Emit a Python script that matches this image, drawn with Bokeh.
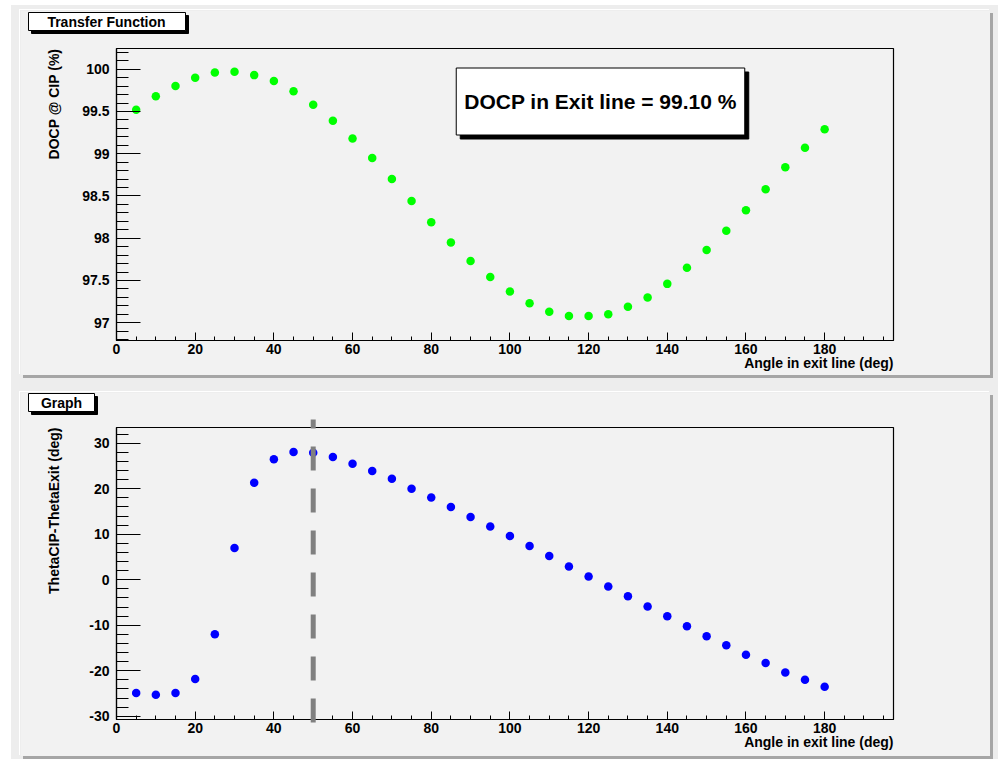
import numpy as np
from bokeh.plotting import figure
from bokeh.models import Range1d, FixedTicker, Label, CustomJSTickFormatter
from bokeh.core.properties import value
from bokeh.layouts import column
from bokeh.embed import file_html
from bokeh.resources import INLINE

# ---------------- data ----------------
angle = [5, 10, 15, 20, 25, 30, 35, 40, 45, 50, 55, 60, 65, 70, 75, 80, 85, 90,
         95, 100, 105, 110, 115, 120, 125, 130, 135, 140, 145, 150, 155, 160,
         165, 170, 175, 180]
docp = [99.52, 99.68, 99.80, 99.90, 99.96, 99.97, 99.93, 99.86, 99.74, 99.58,
        99.39, 99.18, 98.95, 98.70, 98.44, 98.19, 97.95, 97.73, 97.54, 97.37,
        97.23, 97.13, 97.08, 97.08, 97.10, 97.19, 97.30, 97.46, 97.65, 97.86,
        98.09, 98.33, 98.58, 98.84, 99.07, 99.29]
dtheta = [-24.9, -25.3, -24.9, -21.8, -12.0, 7.0, 21.3, 26.5, 28.1, 27.9,
          27.0, 25.5, 23.9, 22.2, 20.0, 18.1, 16.0, 13.8, 11.7, 9.6, 7.4,
          5.2, 2.9, 0.7, -1.5, -3.6, -5.9, -8.0, -10.2, -12.4, -14.4, -16.5,
          -18.3, -20.4, -22.0, -23.5]
x_ticks = [0, 20, 40, 60, 80, 100, 120, 140, 160, 180]
docp_ticks = [97, 97.5, 98, 98.5, 99, 99.5, 100]
dtheta_ticks = [-30, -20, -10, 0, 10, 20, 30]
exit_angle = 50
docp_exit_text = "DOCP in Exit line = 99.10 %"

title_top = "Transfer Function"
title_bottom = "Graph"
xlabel = "Angle in exit line (deg)"
ylabel_top = "DOCP @ CIP (%)"
ylabel_bottom = "ThetaCIP-ThetaExit (deg)"

# ---------------- style ----------------
PAD = "#f2f2f2"
CANVAS = "#ededed"
FONT = "Liberation Sans"
X_RANGE = (0, 197.5)

PAD_W = 970
FRAME_L, FRAME_R = 96, 97
FRAME_W = PAD_W - FRAME_L - FRAME_R
FRAME_H = 292
PAD_X = 20


def make_pad(y_range, yticks, yminor, pad_y, border_top, border_bottom):
    height = border_top + FRAME_H + border_bottom
    p = figure(width=PAD_W, height=height,
               x_range=Range1d(*X_RANGE), y_range=Range1d(*y_range),
               min_border_left=FRAME_L, min_border_right=FRAME_R,
               min_border_top=border_top, min_border_bottom=border_bottom,
               background_fill_color=PAD, border_fill_color=PAD,
               output_backend="svg", toolbar_location=None,
               styles={"box-shadow": "3px 3px 0 #a6a6a6, -1px -1px 0 #ffffff"})
    p.grid.visible = False
    p.outline_line_color = "black"
    p.outline_line_width = 1.2
    fmt = CustomJSTickFormatter(code="return String(Math.round(tick*10)/10);")
    for ax in (p.xaxis[0], p.yaxis[0]):
        ax.axis_label = None
        ax.axis_line_color = "black"
        ax.axis_line_width = 1.2
        ax.major_tick_line_color = "black"
        ax.minor_tick_line_color = "black"
        ax.major_tick_out = 0
        ax.minor_tick_out = 0
        ax.major_label_text_font = FONT
        ax.major_label_text_font_style = "bold"
        ax.major_label_text_font_size = "14px"
        ax.major_label_text_color = "black"
        ax.formatter = fmt
    p.xaxis.ticker = FixedTicker(ticks=x_ticks, minor_ticks=list(np.arange(0, 196, 5)))
    p.xaxis.major_tick_in = 8
    p.xaxis.minor_tick_in = 4
    p.xaxis.major_label_standoff = 3
    p.yaxis.ticker = FixedTicker(ticks=yticks, minor_ticks=yminor)
    p.yaxis.major_tick_in = 24
    p.yaxis.minor_tick_in = 12
    p.yaxis.major_label_standoff = 7

    top = pad_y + border_top
    left = PAD_X + FRAME_L

    def dx(px):
        return X_RANGE[0] + (px - left) / FRAME_W * (X_RANGE[1] - X_RANGE[0])

    def dy(py):
        return y_range[1] - (py - top) / FRAME_H * (y_range[1] - y_range[0])

    return p, dx, dy


def otext(p, dx, dy, px, py, text, size, align="center", angle=0.0):
    p.text(x=[dx(px)], y=[dy(py)], text=[text], text_font=value(FONT),
           text_font_style="bold", text_font_size=size, text_color="black",
           text_align=align, text_baseline="middle", angle=angle, level="overlay")


def obox(p, dx, dy, l, t, r, b, shadow):
    p.quad(left=[dx(l + shadow)], right=[dx(r + shadow)], top=[dy(t + shadow)],
           bottom=[dy(b + shadow)], fill_color="black", line_color="black", level="overlay")
    p.quad(left=[dx(l)], right=[dx(r)], top=[dy(t)], bottom=[dy(b)],
           fill_color="white", line_color="black", line_width=1, level="overlay")


# ---------------- top pad ----------------
top_y = 10
yr1 = (96.79, 100.245)
p1, dx1, dy1 = make_pad(yr1, docp_ticks, list(np.round(np.arange(96.8, 100.25, 0.1), 1)),
                        top_y, 38, 35)
p1.scatter(angle, docp, size=8.5, fill_color="#00ff00", line_color=None)
obox(p1, dx1, dy1, 28, 12, 185, 30, 3)
otext(p1, dx1, dy1, 106, 21, title_top, "14px")
for off, fill in ((4, "black"), (0, "white")):
    p1.add_layout(Label(x=dx1(600), y=dy1(101), text=docp_exit_text, text_font=FONT,
                        text_font_style="bold", text_font_size="21px", text_color="black",
                        text_align="center", text_baseline="middle",
                        padding=dict(left=8, right=8, top=22, bottom=22),
                        background_fill_color=fill, border_line_color="black",
                        x_offset=off, y_offset=-off))
otext(p1, dx1, dy1, 893, 362, xlabel, "14px", align="right")
otext(p1, dx1, dy1, 53.5, 48, ylabel_top, "14px", align="right", angle=np.pi / 2)

# ---------------- bottom pad ----------------
bot_y = 392
yr2 = (-30.72, 33.47)
p2, dx2, dy2 = make_pad(yr2, dtheta_ticks, list(np.arange(-30, 33, 2)), bot_y, 35, 37)
p2.scatter(angle, dtheta, size=8.5, fill_color="#0000ff", line_color=None)
p2.segment(x0=[exit_angle], y0=[dy2(722)], x1=[exit_angle], y1=[dy2(419)],
           line_color="#808080", line_width=5, line_dash="24 18", level="overlay")
obox(p2, dx2, dy2, 28, 393, 94, 411, 3)
otext(p2, dx2, dy2, 61, 402, title_bottom, "14px")
otext(p2, dx2, dy2, 893, 741, xlabel, "14px", align="right")
otext(p2, dx2, dy2, 53.5, 427, ylabel_bottom, "14px", align="right", angle=np.pi / 2)

p1.margin = (5, 8, 0, 9)
p2.margin = (bot_y - (top_y + p1.height), 8, 3, 9)

layout = column(p1, p2, spacing=0, margin=(5, 0, 0, 11),
                styles={"background-color": CANVAS})

open("out.html", "w").write(file_html(layout, INLINE))
